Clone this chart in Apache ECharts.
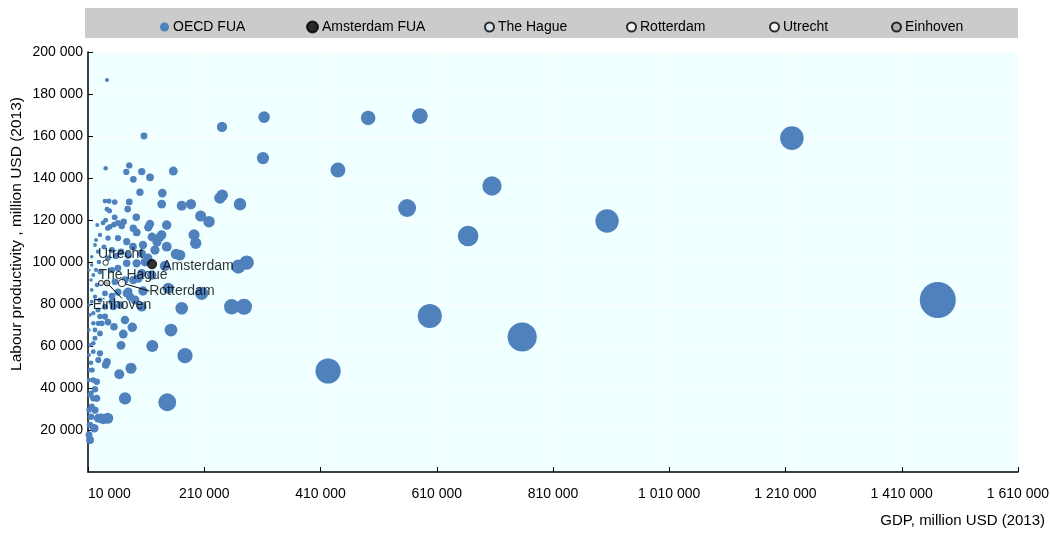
<!DOCTYPE html>
<html>
<head>
<meta charset="utf-8">
<script src="https://cdn.jsdelivr.net/npm/echarts@6/dist/echarts.min.js"></script>
<style>
html,body{margin:0;padding:0;background:#ffffff;}
#chart{width:1050px;height:534px;}
</style>
</head>
<body>
<div id="chart"></div>
<script>
// ---- DATA ----
const xTicks = [10000, 210000, 410000, 610000, 810000, 1010000, 1210000, 1410000, 1610000];
const yTicks = [20000, 40000, 60000, 80000, 100000, 120000, 140000, 160000, 180000, 200000];

// OECD FUA: GDP (million USD 2013) and labour productivity
const oecdGdp = [
  1472000, 1221000, 903000, 757000, 705000, 664000, 598000, 581000, 559000, 492000,
  440000, 423000, 313000, 311000, 240500, 271500, 237000, 241000, 283000, 268600,
  278400, 257200, 218200, 203800, 192400, 195300, 187200, 171200, 205600, 171200,
  176900, 152800, 120600, 146400, 156800, 137800, 136800, 106300, 42700, 168200,
  40400, 81000, 75900, 102400, 88000, 116700, 99400, 39200, 46100, 55900,
  81000, 42700, 47000, 78300, 93100, 55900, 40400, 26000, 54700, 71400,
  68000, 87900, 116600, 113700, 145400, 43900, 35800, 47800, 61600, 93800,
  136800, 30600, 44400, 61600, 76600, 87400, 104600, 125200, 145400, 22000,
  27200, 16400, 102400, 79300, 161400, 93700, 76600, 142400, 16400, 19200,
  56400, 73600, 96500, 102400, 119600, 148100, 87900, 16400, 22000, 39200,
  79300, 76600, 82200, 16400, 27200, 39200, 65000, 102400, 53500, 30600,
  19100, 86200, 70700, 54700, 66800, 84000, 63800, 40400, 42700, 73700,
  43900, 35800, 20800, 19100, 27700, 33600, 39200, 30600, 22000, 22000,
  19100, 19100, 30600, 27700, 15200, 17400, 19100, 25000, 22000, 15200,
  19100, 25000, 16400, 22000, 15200, 27700, 32400, 13400, 11700, 13400,
  11700, 13400, 11700, 13400, 11700, 13400, 11700, 13400, 11700, 15200,
  11700, 23800, 28900, 23800, 30600, 25500, 37500, 51300, 58200, 44400,
  66800, 51300, 61600, 113200, 128700, 104600, 51300, 51300, 61600, 73600,
  44400, 30600, 90800, 108000, 120100, 133800
];
const oecdProd = [
  81900, 159000, 119500, 64300, 136200, 112400, 74300, 169500, 125700, 168600,
  143800, 48100, 169000, 149500, 164300, 127500, 130500, 131800, 99700, 97800,
  78700, 78700, 119200, 121900, 112900, 108900, 127600, 126800, 85100, 78000,
  55400, 67600, 60000, 33200, 143300, 132800, 127600, 160000, 186700, 103300,
  144600, 146000, 142900, 143000, 139400, 140300, 133200, 129000, 129000, 128600,
  128600, 125100, 124400, 125200, 121300, 121300, 119900, 117600, 117800, 119200,
  117100, 116100, 118100, 116500, 117600, 116100, 118600, 116800, 118600, 114100,
  112900, 112900, 111400, 111400, 109700, 107300, 108100, 105700, 107300, 108100,
  104900, 102500, 104100, 103300, 103800, 99400, 99400, 98100, 98600, 93800,
  90600, 91400, 92200, 94600, 93800, 87500, 91400, 86700, 83500, 85100,
  85900, 85100, 83500, 81100, 77100, 78700, 79500, 78700, 78700, 74000,
  70800, 68900, 65700, 69200, 60300, 49400, 46500, 51000, 52400, 35100,
  25600, 25200, 20800, 75600, 70800, 70800, 74000, 66000, 67600, 63700,
  61300, 57300, 56500, 53300, 52000, 48600, 43800, 43000, 39400, 37500,
  35100, 35100, 31100, 29500, 26300, 25600, 25600, 15200, 17600, 22400,
  29500, 36700, 43800, 48600, 55700, 60500, 67600, 74800, 79500, 91400,
  96200, 110500, 100000, 96200, 95200, 89000, 107100, 105700, 102900, 101900,
  104800, 96200, 97100, 101900, 109500, 86200, 83800, 81000, 85700, 72400,
  71400, 81900, 81900, 100000, 111900, 111900
];

// Dutch FUAs
const cityNames = ['Amsterdam', 'The Hague', 'Rotterdam', 'Utrecht', 'Einhoven'];
const citySeries = ['Amsterdam FUA', 'The Hague', 'Rotterdam', 'Utrecht', 'Einhoven'];
const cityGdp = [120100, 32400, 68500, 40400, 42700];
const cityProd = [99000, 90000, 90000, 99700, 90000];

// ---- CHART ----
const FONT = '"Liberation Sans", Arial, sans-serif';
const FS = 14;
const fmt = v => String(v).replace(/\B(?=(\d{3})+(?!\d))/g, ' ');
const bubble = d => Math.max(3, 8.5 * Math.sqrt(d[0] / d[1]));

const chart = echarts.init(document.getElementById('chart'), null, {renderer: 'canvas'});

const cityStyles = [
  {color: '#000000', borderColor: '#000000', borderWidth: 1},
  {color: '#dce8f6', borderColor: '#000000', borderWidth: 1},
  {color: '#ffffff', borderColor: '#000000', borderWidth: 1},
  {color: '#ffffff', borderColor: '#000000', borderWidth: 1},
  {color: '#a6a6a6', borderColor: '#000000', borderWidth: 1}
];
const cityLabel = [
  {layout: {dx: 0, dy: 2}, pos: 'right', line: false},
  {layout: {dx: 32, dy: 7}, pos: 'top', line: false},
  {layout: {dx: 18, dy: 8}, pos: 'right', line: true},
  {layout: {dx: 15, dy: 7}, pos: 'top', line: false},
  {layout: {dx: 15, dy: 7}, pos: 'bottom', line: true}
];

const series = [{
  name: 'OECD FUA',
  type: 'scatter',
  data: oecdGdp.map((g, i) => [g, oecdProd[i]]),
  symbolSize: bubble,
  itemStyle: {color: '#4f81bd', opacity: 1},
  emphasis: {disabled: true},
  z: 2
}];
cityNames.forEach((n, i) => {
  series.push({
    name: citySeries[i],
    type: 'scatter',
    data: [[cityGdp[i], cityProd[i]]],
    symbolSize: bubble,
    itemStyle: cityStyles[i],
    emphasis: {disabled: true},
    z: 5,
    label: {
      show: true,
      formatter: n,
      position: cityLabel[i].pos,
      distance: 5,
      color: '#000',
      fontFamily: FONT,
      fontSize: FS
    },
    labelLayout: cityLabel[i].layout,
    labelLine: {show: cityLabel[i].line, lineStyle: {color: '#000', width: 1}}
  });
});

const legendPos = [
  {name: 'OECD FUA', left: 155, w: 9},
  {name: 'Amsterdam FUA', left: 301, w: 11},
  {name: 'The Hague', left: 479, w: 9},
  {name: 'Rotterdam', left: 621, w: 9},
  {name: 'Utrecht', left: 764, w: 9},
  {name: 'Einhoven', left: 886, w: 9}
];

const option = {
  animation: false,
  backgroundColor: '#ffffff',
  textStyle: {fontFamily: FONT},
  grid: {left: 88, right: 32, top: 52, bottom: 62, show: true, backgroundColor: '#f0ffff', borderWidth: 0, outerBoundsMode: 'none', containLabel: false},
  legend: legendPos.map(l => ({
    data: [l.name],
    left: l.left,
    top: 15,
    itemWidth: l.w,
    itemHeight: l.w,
    itemGap: 4,
    icon: 'circle',
    selectedMode: false,
    textStyle: {fontFamily: FONT, fontSize: FS, color: '#000', padding: [0, 0, 0, -1]}
  })),
  xAxis: {
    type: 'value',
    min: xTicks[0],
    max: xTicks[xTicks.length - 1],
    interval: xTicks[1] - xTicks[0],
    axisLine: {show: true, onZero: false, lineStyle: {color: '#000', width: 1.5}},
    axisTick: {show: true, inside: true, length: 5, lineStyle: {color: '#000'}},
    axisLabel: {color: '#000', fontFamily: FONT, fontSize: FS, margin: 15, formatter: fmt, alignMinLabel: 'left'},
    splitLine: {show: true, lineStyle: {color: '#ffffff', width: 1}}
  },
  yAxis: {
    type: 'value',
    min: 0,
    max: yTicks[yTicks.length - 1],
    interval: yTicks[1] - yTicks[0],
    axisLine: {show: true, onZero: false, lineStyle: {color: '#000', width: 1.5}},
    axisTick: {show: true, inside: true, length: 5, lineStyle: {color: '#000'}},
    axisLabel: {color: '#000', fontFamily: FONT, fontSize: FS, margin: 5, showMinLabel: false, formatter: fmt},
    splitLine: {show: true, lineStyle: {color: '#ffffff', width: 1}}
  },
  graphic: [
    {type: 'rect', left: 85, top: 8, shape: {width: 933, height: 30}, style: {fill: '#cbcbcb'}, z: -10, silent: true},
    {type: 'text', x: 1045, y: 521, style: {text: 'GDP, million USD (2013)', fill: '#000', font: '15px ' + FONT, textAlign: 'right', textVerticalAlign: 'middle'}, silent: true},
    {type: 'text', x: 17, y: 234, rotation: Math.PI / 2, style: {text: 'Labour productivity , million USD (2013)', fill: '#000', font: '15.5px ' + FONT, textAlign: 'center', textVerticalAlign: 'middle'}, silent: true}
  ],
  series: series
};
chart.setOption(option);
</script>
</body>
</html>
